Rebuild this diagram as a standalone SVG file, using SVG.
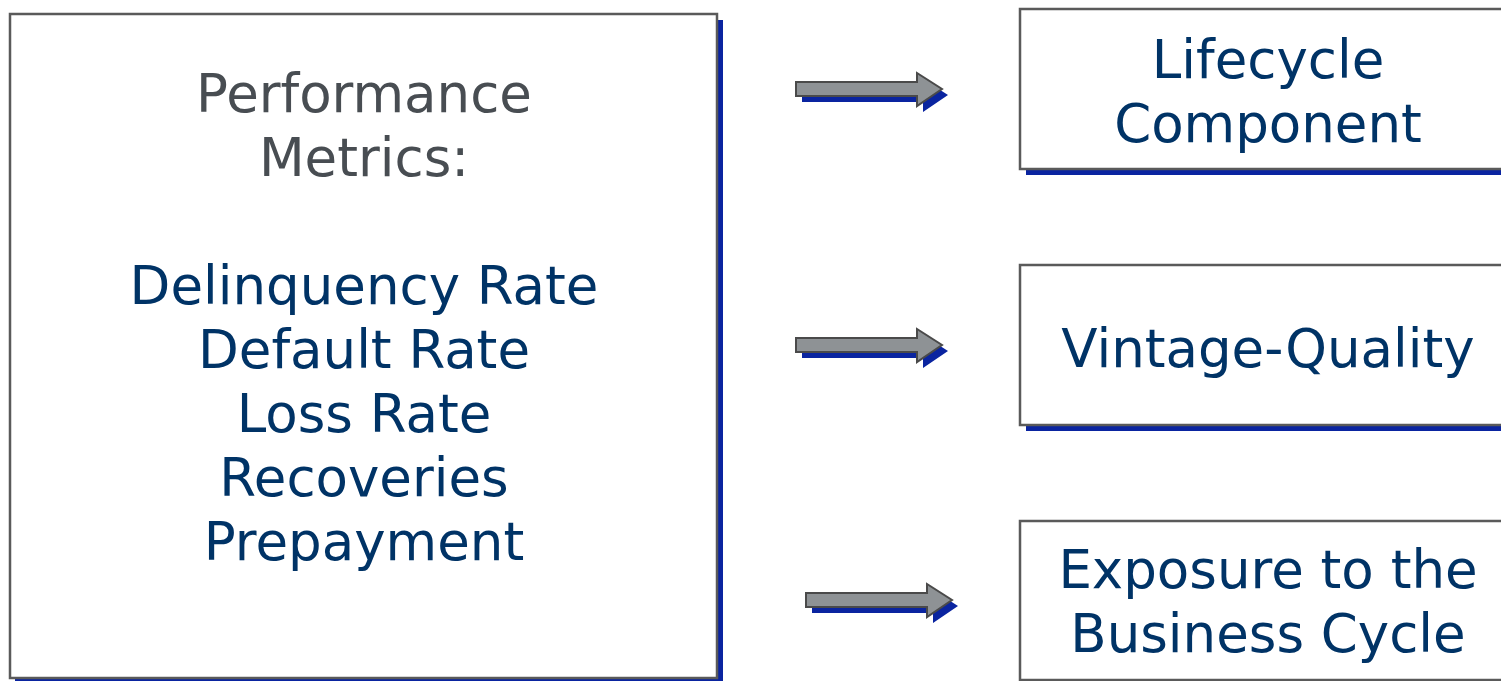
<svg xmlns="http://www.w3.org/2000/svg" width="1501" height="681" viewBox="0 0 1501 681">
  <style>
    .shadow { fill: #0a24a0; }
    .box { fill: #ffffff; stroke: #5a5a5a; stroke-width: 2.5; }
    .label { font-family: "DejaVu Sans", Verdana, sans-serif; font-size: 53px; text-anchor: middle; fill: #003366; }
    .head { fill: #484d52; }
    .arrow { fill: #8e9295; stroke: #4a4a4a; stroke-width: 2; stroke-linejoin: miter; }
    .arrow-shadow { fill: #0a24a0; }
  </style>
  <defs>
    <g id="block-arrow-shape">
      <path d="M0,0 H121 V-9 L146,7 L121,24 V14 H0 Z"/>
    </g>
  </defs>
  <rect width="1501" height="681" fill="#ffffff"/>

  <!-- Metrics box -->
  <g id="metrics">
    <rect class="shadow" x="15" y="20" width="708" height="670"/>
    <rect class="box" x="10" y="14" width="707" height="664"/>
    <text class="label head" x="364" y="112">Performance</text>
    <text class="label head" x="364" y="176">Metrics:</text>
    <text class="label" x="364" y="304">Delinquency Rate</text>
    <text class="label" x="364" y="368">Default Rate</text>
    <text class="label" x="364" y="432">Loss Rate</text>
    <text class="label" x="364" y="496">Recoveries</text>
    <text class="label" x="364" y="560">Prepayment</text>
  </g>

  <!-- Outcome boxes -->
  <g id="lifecycle">
    <rect class="shadow" x="1026" y="15" width="500" height="160"/>
    <rect class="box" x="1020" y="9" width="500" height="160"/>
    <text class="label" x="1268" y="78">Lifecycle</text>
    <text class="label" x="1268" y="142">Component</text>
  </g>
  <g id="vintage">
    <rect class="shadow" x="1026" y="271" width="500" height="160"/>
    <rect class="box" x="1020" y="265" width="500" height="160"/>
    <text class="label" x="1268" y="367">Vintage-Quality</text>
  </g>
  <g id="business-cycle">
    <rect class="shadow" x="1026" y="527" width="500" height="160"/>
    <rect class="box" x="1020" y="521" width="500" height="159"/>
    <text class="label" x="1268" y="588">Exposure to the</text>
    <text class="label" x="1268" y="652">Business Cycle</text>
  </g>

  <!-- Connectors: block arrows with drop shadow -->
  <g id="connectors">
    <use href="#block-arrow-shape" class="arrow-shadow" transform="translate(802,88)"/>
    <use href="#block-arrow-shape" class="arrow" transform="translate(796,82)"/>
    <use href="#block-arrow-shape" class="arrow-shadow" transform="translate(802,344)"/>
    <use href="#block-arrow-shape" class="arrow" transform="translate(796,338)"/>
    <use href="#block-arrow-shape" class="arrow-shadow" transform="translate(812,599)"/>
    <use href="#block-arrow-shape" class="arrow" transform="translate(806,593)"/>
  </g>
</svg>
